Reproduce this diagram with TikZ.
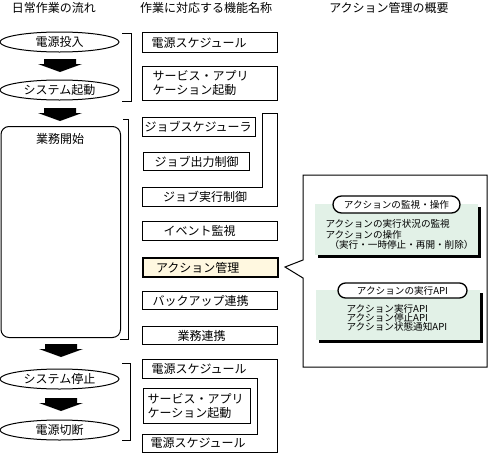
\documentclass[tikz,border=0pt]{standalone}
\usepackage{fontspec}
\setmainfont{Noto Sans CJK JP}
\usetikzlibrary{shapes.geometric}
\definecolor{panelgreen}{RGB}{226,241,231}
\definecolor{cream}{RGB}{255,248,224}
\begin{document}
\begin{tikzpicture}[x=1pt,y=-1pt, line width=1pt,
  lab/.style={font=\fontsize{12}{14}\selectfont},
  small/.style={font=\fontsize{9.6}{10.5}\selectfont},
  mbox/.style={draw, anchor=north west, align=left, inner ysep=0pt, lab},
  oval/.style={draw, ellipse, minimum width=119pt, minimum height=20pt, inner sep=0pt, lab},
  pill/.style={draw, fill=white, line width=1.3pt, inner sep=0pt, small},
  txt/.style={inner sep=0pt, anchor=west},
  downarr/.pic={\fill[black] (-16,0) -- (16,0) -- (16,5) -- (22,5) -- (0,13) -- (-22,5) -- (-16,5) -- cycle;}
]
\useasboundingbox (0,0) rectangle (488,453);
\fill[white] (0,0) rectangle (488,453);

% titles
\node[lab] (t1) at (54,8) {日常作業の流れ};
\node[lab] (t2) at (206,8) {作業に対応する機能名称};
\node[lab] (t3) at (389,8) {アクション管理の概要};

% left column
\node[oval] (e1) at (59.5,42) {電源投入};
\node[oval] (e2) at (59.5,90) {システム起動};
\node[draw, rounded corners=8pt, minimum width=119.5pt, minimum height=211pt, anchor=north west, inner sep=0pt] (work) at (0.5,126) {};
\node[lab] (worktxt) at (60,139) {業務開始};
\node[oval] (e3) at (59.5,379) {システム停止};
\node[oval] (e4) at (59.5,430) {電源切断};

\pic at (60,59) {downarr};
\pic at (60,108) {downarr};
\pic at (61,344) {downarr};
\pic at (61,398) {downarr};

% brackets
\draw (122,33) -- (131,33) -- (131,101) -- (122,101);
\draw (123,119) -- (128,119) -- (128,339) -- (120,339);
\draw (122,363) -- (130,363) -- (130,440) -- (122,440);

% middle column
\node[mbox, minimum height=20pt, inner xsep=9pt, text width=117pt] (b1) at (142,32) {電源スケジュール};
\node[mbox, minimum height=34pt, inner xsep=10pt, text width=115pt] (b2) at (142,66) {サービス・アプリ\\ケーション起動};
\node[mbox, minimum height=19pt, inner xsep=2pt, text width=109pt] (b3) at (142,117) {ジョブスケジューラ};
\node[mbox, minimum height=18pt, inner xsep=11pt, text width=84pt] (b4) at (143,152) {ジョブ出力制御};
\draw (142,187) -- (262,187) -- (262,113) -- (277,113) -- (277,206) -- (142,206) -- cycle;
\node[lab] (b5) at (205,197) {ジョブ実行制御};
\node[mbox, minimum height=19pt, inner xsep=21pt, text width=93pt] (b6) at (142,221) {イベント監視};
\node[mbox, fill=cream, line width=2pt, minimum height=19pt, inner xsep=13pt, text width=109pt] (b7) at (142,257) {アクション管理};
\node[mbox, minimum height=18pt, inner xsep=10pt, text width=115pt] (b8) at (142,291) {バックアップ連携};
\node[mbox, minimum height=18pt, inner xsep=35pt, text width=65pt] (b9) at (142,326) {業務連携};
\draw (142,359) -- (277,359) -- (277,452) -- (142,452) -- (142,434) -- (257,434) -- (257,378) -- (142,378) -- cycle;
\node[lab, txt] (b10) at (151,369) {電源スケジュール};
\node[mbox, minimum height=35pt, inner xsep=4pt, text width=99pt] (b11) at (143,388) {サービス・アプリ\\ケーション起動};
\node[lab, txt] (b12) at (150,443) {電源スケジュール};

% callout
\draw (303,175) -- (487,175) -- (487,367) -- (303,367) -- (303,278) -- (285,267) -- (303,260) -- cycle;

% panel 1
\fill[black] (318,207) rectangle (481,258);
\fill[panelgreen] (315,204) rectangle (478,255);
\node[pill, rounded corners=8.5pt, minimum width=127pt, minimum height=17pt] (p1h) at (396.5,204.5) {アクションの監視・操作};
\node[small, txt] (p1a) at (325,224) {アクションの実行状況の監視};
\node[small, txt] (p1b) at (325,234.5) {アクションの操作};
\node[small, txt] (p1c) at (329,245) {（実行・一時停止・再開・削除）};

% panel 2
\fill[black] (319,293) rectangle (483,343);
\fill[panelgreen] (316,290) rectangle (480,340);
\node[pill, rounded corners=7.5pt, minimum width=129pt, minimum height=15pt] (p2h) at (402.5,290.5) {アクションの実行API};
\node[small, txt] (p2a) at (346,309) {アクション実行API};
\node[small, txt] (p2b) at (346,318) {アクション停止API};
\node[small, txt] (p2c) at (346,327) {アクション状態通知API};
\end{tikzpicture}
\end{document}
